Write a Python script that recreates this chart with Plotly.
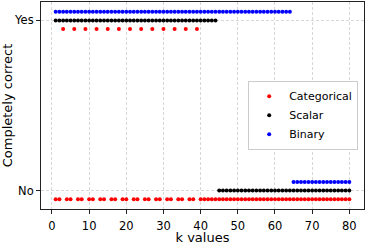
import plotly.graph_objects as go

k_values = list(range(1, 81))
# 1 = Yes (completely correct), 0 = No
categorical = [1 if (k % 3 == 0 and k <= 39) else 0 for k in k_values]
scalar = [1 if k <= 44 else 0 for k in k_values]
binary = [1 if k <= 64 else 0 for k in k_values]
offsets = {"Categorical": -0.05, "Scalar": 0.0, "Binary": 0.05}
colors = {"Categorical": "#ff0000", "Scalar": "#000000", "Binary": "#0000ff"}
y_tick_vals = [0, 1]
y_tick_text = ["No", "Yes"]
x_tick_vals = [0, 10, 20, 30, 40, 50, 60, 70, 80]

fig = go.Figure()
for name, vals in [("Categorical", categorical), ("Scalar", scalar), ("Binary", binary)]:
    fig.add_trace(go.Scatter(
        x=k_values, y=[v + offsets[name] for v in vals], mode="markers", name=name,
        marker=dict(color=colors[name], size=4, line=dict(width=0)),
    ))

font = "DejaVu Sans, sans-serif"
axis_common = dict(
    showline=True, linecolor="#222", linewidth=1, mirror=True,
    ticks="outside", ticklen=4, tickcolor="#222", tickwidth=1,
    showgrid=True, gridcolor="#d8d8d8", gridwidth=0.8, griddash="3px,2px",
    zeroline=False, tickfont=dict(family=font, size=11.5, color="#000"),
)
fig.update_layout(
    width=366, height=245,
    margin=dict(l=40, r=1, t=1, b=29),
    paper_bgcolor="white", plot_bgcolor="white",
    font=dict(family=font, color="#000"),
    showlegend=True,
    legend=dict(
        x=0.982, y=0.62, xanchor="right", yanchor="top",
        bgcolor="white", bordercolor="#cccccc", borderwidth=1,
        font=dict(family=font, size=11),
        tracegroupgap=0, itemsizing="trace",
    ),
)
fig.update_xaxes(
    range=[-2.95, 83.95], tickvals=x_tick_vals, ticklabelstandoff=2,
    title=dict(text="k values", font=dict(family=font, size=13), standoff=2),
    **axis_common,
)
fig.update_yaxes(
    range=[-0.108, 1.108], tickvals=y_tick_vals, ticktext=y_tick_text,
    title=dict(text="Completely correct", font=dict(family=font, size=13), standoff=4),
    **axis_common,
)
fig.write_html(
    "out.html",
    config={"displayModeBar": False},
    post_script="document.body.style.margin='0';document.body.style.overflow='hidden';",
)
